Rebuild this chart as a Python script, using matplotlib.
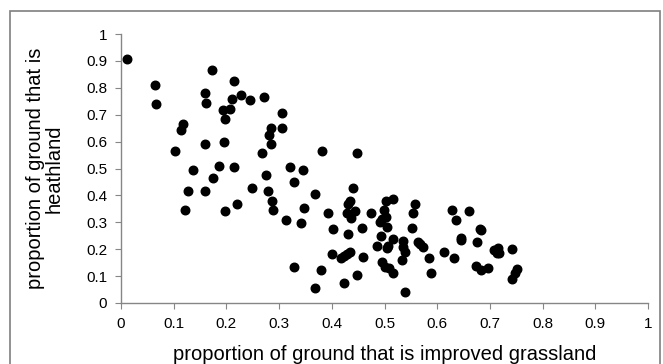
import numpy as np
import matplotlib.pyplot as plt
from matplotlib.patches import Rectangle

plt.rcParams['font.family'] = ['Liberation Sans', 'DejaVu Sans']

# proportion improved grassland (x) and heathland (y)
grassland = [0.011, 0.065, 0.066, 0.103, 0.117, 0.113, 0.173, 0.159, 0.161, 0.159,
             0.214, 0.211, 0.228, 0.245, 0.194, 0.206, 0.197, 0.195, 0.272, 0.306,
             0.305, 0.284, 0.281, 0.285, 0.268, 0.321, 0.137, 0.128, 0.122, 0.159,
             0.175, 0.186, 0.214, 0.198, 0.220, 0.248, 0.276, 0.279, 0.287, 0.289,
             0.313, 0.328, 0.329, 0.381, 0.448, 0.345, 0.368, 0.441, 0.348, 0.342,
             0.393, 0.435, 0.431, 0.428, 0.444, 0.437, 0.474, 0.502, 0.516, 0.499,
             0.502, 0.495, 0.492, 0.504, 0.558, 0.555, 0.629, 0.661, 0.636, 0.552,
             0.457, 0.403, 0.681, 0.430, 0.493, 0.516, 0.535, 0.563, 0.567, 0.573,
             0.645, 0.646, 0.676, 0.485, 0.504, 0.506, 0.536, 0.538, 0.612, 0.401,
             0.418, 0.423, 0.429, 0.435, 0.460, 0.533, 0.585, 0.632, 0.495, 0.501,
             0.509, 0.517, 0.589, 0.674, 0.379, 0.447, 0.424, 0.368, 0.538, 0.683,
             0.741, 0.708, 0.715, 0.713, 0.717, 0.683, 0.697, 0.751, 0.748, 0.742]
heathland = [0.907, 0.809, 0.739, 0.565, 0.664, 0.642, 0.865, 0.782, 0.745, 0.591,
             0.826, 0.759, 0.772, 0.755, 0.717, 0.722, 0.684, 0.597, 0.767, 0.707,
             0.652, 0.652, 0.625, 0.592, 0.559, 0.507, 0.493, 0.418, 0.347, 0.418,
             0.465, 0.509, 0.504, 0.341, 0.368, 0.428, 0.476, 0.418, 0.379, 0.347,
             0.307, 0.450, 0.134, 0.565, 0.559, 0.493, 0.406, 0.429, 0.352, 0.296,
             0.336, 0.380, 0.367, 0.336, 0.342, 0.315, 0.336, 0.380, 0.385, 0.347,
             0.319, 0.312, 0.300, 0.283, 0.368, 0.336, 0.347, 0.342, 0.309, 0.280,
             0.280, 0.275, 0.275, 0.258, 0.249, 0.237, 0.232, 0.227, 0.219, 0.209,
             0.240, 0.235, 0.227, 0.211, 0.204, 0.212, 0.209, 0.190, 0.188, 0.183,
             0.168, 0.174, 0.182, 0.188, 0.171, 0.160, 0.166, 0.166, 0.152, 0.135,
             0.131, 0.113, 0.113, 0.139, 0.123, 0.104, 0.073, 0.057, 0.041, 0.270,
             0.200, 0.197, 0.203, 0.186, 0.185, 0.123, 0.129, 0.125, 0.110, 0.090]
tick_labels = ['0', '0.1', '0.2', '0.3', '0.4', '0.5', '0.6', '0.7', '0.8', '0.9', '1']

W, H = 663, 364
fig = plt.figure(figsize=(W/100, H/100), dpi=100)
# thin grey frame round the chart area
fig.patches.append(Rectangle((10/W, -0.05), 650/W, 1.05 - 11/H, transform=fig.transFigure,
                             fill=False, edgecolor='#7f7f7f', linewidth=1.2))
ax = fig.add_axes([121/W, 1-303/H, 527/W, 269/H])

ax.scatter(grassland, heathland, s=38, color='black', zorder=3, clip_on=False)

ax.set_xlim(0, 1)
ax.set_ylim(0, 1)
ax.set_xticks(np.arange(0, 1.01, 0.1))
ax.set_yticks(np.arange(0, 1.01, 0.1))
ax.set_xticklabels(tick_labels)
ax.set_yticklabels(tick_labels)
for s in ['top', 'right']:
    ax.spines[s].set_visible(False)
for s in ['left', 'bottom']:
    ax.spines[s].set_color('#868686')
    ax.spines[s].set_linewidth(1)
ax.tick_params(axis='both', direction='out', length=4, color='#868686',
               labelsize=11, pad=6)
ax.tick_params(axis='x', pad=6)

ax.set_xlabel('proportion of ground that is improved grassland', fontsize=14.5)
ax.xaxis.set_label_coords(0.5, -0.157)
ax.set_ylabel('proportion of ground that is\nheathland', fontsize=14.5, linespacing=1.0)
ax.yaxis.set_label_coords(-0.109, 0.5)

fig.savefig('out.png', dpi=100)
